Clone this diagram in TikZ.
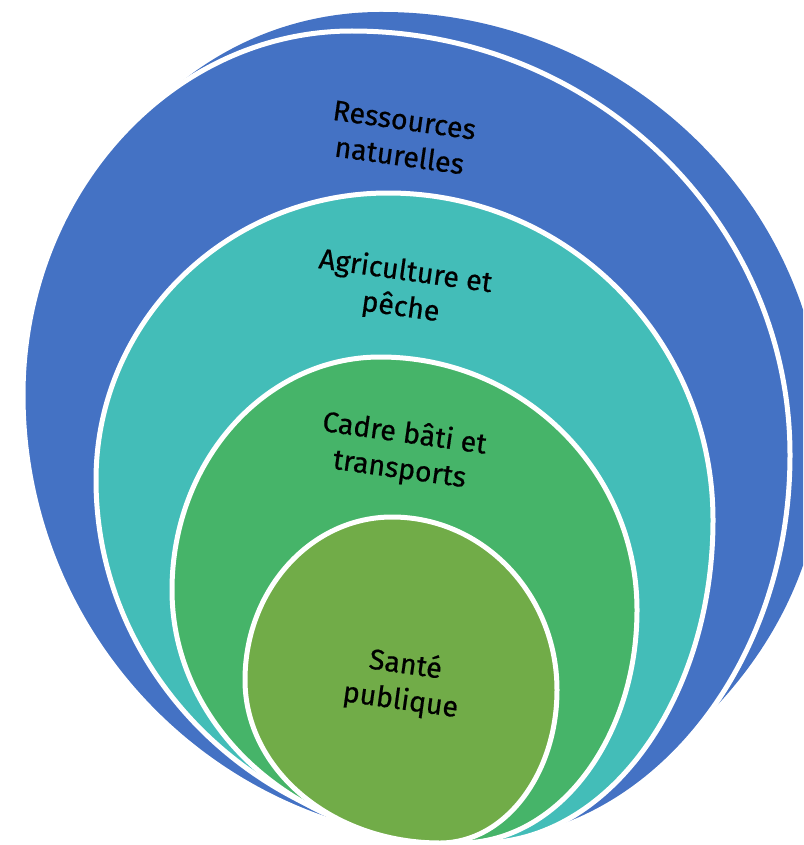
\documentclass[tikz,border=0pt]{standalone}
\usepackage{fontspec}
\setmainfont{Fira Sans}
\newfontfamily\lblfont{Fira Sans}[FakeBold=0.6]
\definecolor{cblue}{HTML}{4472C4}
\definecolor{cteal}{HTML}{43BDB8}
\definecolor{cgreen}{HTML}{46B469}
\definecolor{clgreen}{HTML}{71AC48}
% #1 style, top (#2,#3), right (#4,#5), bottom (#6,#7), left (#8,#9)
\newcommand\eggfill[9]{%
  \path[#1] (#2,#3)
    .. controls ({#2+0.5523*(#4-#2)},#3) and (#4,{#5-0.5523*(#5-#3)}) .. (#4,#5)
    .. controls (#4,{#5+0.5523*(#7-#5)}) and ({#6+0.5523*(#4-#6)},#7) .. (#6,#7)
    .. controls ({#6-0.5523*(#6-#8)},#7) and (#8,{#9+0.5523*(#7-#9)}) .. (#8,#9)
    .. controls (#8,{#9-0.5523*(#9-#3)}) and ({#2-0.5523*(#2-#8)},#3) .. (#2,#3) -- cycle;}
\tikzset{
  ring/.style={fill=#1, draw=white, line width=5pt},
  lbl/.style={rotate=-8, align=center, text=black, font=\lblfont\fontsize{28.5}{36}\selectfont}
}
\begin{document}
\begin{tikzpicture}[x=1pt, y=-1pt]
\useasboundingbox (0,0) rectangle (803,845);
\begin{scope}
\clip (0,0) rectangle (803,845);
% back crescent
\fill[cblue] (60,250) .. controls (130,80) and (260,11) .. (383,12)
  .. controls (620,12) and (824,200) .. (824,440)
  .. controls (824,600) and (730,720) .. (600,800) -- (400,400) -- cycle;
\eggfill{ring=cblue}{352}{31}{790}{455}{470}{843}{23}{395}
\eggfill{ring=cteal}{388}{193}{713}{520}{480}{843}{96}{480}
\eggfill{ring=cgreen}{380}{357}{637}{610}{460}{843}{172}{590}
\eggfill{ring=clgreen}{392}{517}{557}{690}{440}{843}{245}{680}
\end{scope}
\node[lbl] (t1) at (402,138) {Ressources\\naturelles};
\node[lbl] (t2) at (403,290) {Agriculture et\\pêche};
\node[lbl] (t3) at (402,452) {Cadre bâti et\\transports};
\node[lbl] (t4) at (403,683) {Santé\\publique};
\end{tikzpicture}
\end{document}
